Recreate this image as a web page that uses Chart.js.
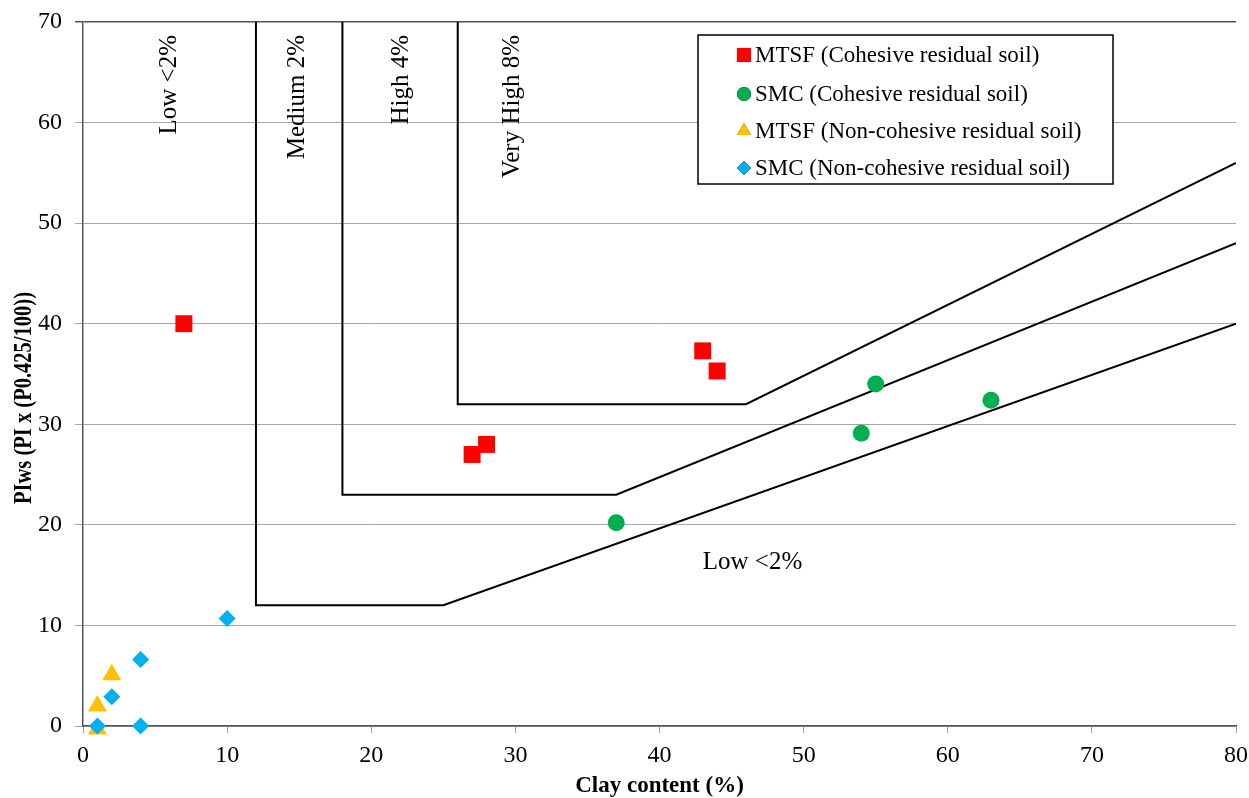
<!DOCTYPE html>
<html lang="en">

<head>
    <meta charset="UTF-8">
    <title>PIws vs clay content</title>
    <script src="https://cdn.jsdelivr.net/npm/chart.js"></script>
    <style>
        html, body { margin: 0; padding: 0; background: #fff; }
        .chart-box { width: 1249px; height: 798px; }
    </style>
</head>

<body>
    <div class="chart-box">
        <canvas id="scatterChart"></canvas>
    </div>

    <script>
        // series values (x = clay content %, y = PIws)
        const mtsfCohX = [7, 27, 28, 43, 44];
        const mtsfCohY = [40, 27, 28, 37.3, 35.3];
        const smcCohX = [37, 54, 55, 63];
        const smcCohY = [20.2, 29.1, 34, 32.4];
        const mtsfNonX = [1, 1, 2];
        const mtsfNonY = [-0.3, 2, 5.1];
        const smcNonX = [1, 2, 4, 4, 10];
        const smcNonY = [0, 2.9, 6.6, 0, 10.7];

        // zone boundaries
        const lowBoundX = [12, 12, 25, 80];
        const lowBoundY = [70, 12, 12, 40];
        const medBoundX = [18, 18, 37, 80];
        const medBoundY = [70, 23, 23, 48];
        const highBoundX = [26, 26, 46, 80];
        const highBoundY = [70, 32, 32, 56];

        const seriesLabels = [
            'MTSF (Cohesive residual soil)',
            'SMC (Cohesive residual soil)',
            'MTSF (Non-cohesive residual soil)',
            'SMC (Non-cohesive residual soil)'
        ];
        const zoneLabels = ['Low <2%', 'Medium 2%', 'High 4%', 'Very High 8%'];
        const zoneLabelX = [6, 14.9, 22.1, 29.8];

        const xTicks = [0, 10, 20, 30, 40, 50, 60, 70, 80];
        const yTicks = [0, 10, 20, 30, 40, 50, 60, 70];

        const serif = '"Liberation Serif", "Times New Roman", serif';

        function pts(xs, ys) {
            return xs.map((x, i) => ({ x: x, y: ys[i] }));
        }

        function boundary(xs, ys) {
            return {
                type: 'line',
                isBoundary: true,
                data: pts(xs, ys),
                borderColor: '#000',
                borderWidth: 2,
                pointRadius: 0,
                fill: false,
                tension: 0,
                order: 10
            };
        }

        // legend box + text labels drawn on the chart
        const overlay = {
            id: 'overlay',
            afterDraw(chart) {
                const ctx = chart.ctx;
                const xs = chart.scales.x;
                const ys = chart.scales.y;
                ctx.save();

                // rotated zone labels
                ctx.fillStyle = '#000';
                ctx.font = '25px ' + serif;
                ctx.textBaseline = 'middle';
                ctx.textAlign = 'right';
                zoneLabels.forEach((t, i) => {
                    ctx.save();
                    ctx.translate(xs.getPixelForValue(zoneLabelX[i]), 35);
                    ctx.rotate(-Math.PI / 2);
                    ctx.fillText(t, 0, 0);
                    ctx.restore();
                });

                // bottom zone label
                ctx.textAlign = 'left';
                ctx.fillText('Low <2%', xs.getPixelForValue(43), ys.getPixelForValue(16.3));

                // y axis title (narrow bold face, squeezed along its length)
                ctx.save();
                ctx.font = 'bold 25px ' + serif;
                ctx.textAlign = 'center';
                const yTitle = 'PIws (PI x (P0.425/100))';
                const squeeze = 212 / ctx.measureText(yTitle).width;
                ctx.translate(25, 398);
                ctx.rotate(-Math.PI / 2);
                ctx.scale(squeeze, 1);
                ctx.fillText(yTitle, 0, 0);
                ctx.restore();

                // legend
                ctx.fillStyle = '#fff';
                ctx.fillRect(698, 35, 415, 149);
                ctx.strokeStyle = '#000';
                ctx.lineWidth = 1.5;
                ctx.strokeRect(698, 35, 415, 149);
                const rowY = [55, 94, 131, 168];
                let row = 0;
                chart.data.datasets.forEach(ds => {
                    if (ds.isBoundary) return;
                    Chart.helpers.drawPoint(ctx, {
                        pointStyle: ds.pointStyle,
                        radius: ds.legendRadius,
                        borderWidth: 0,
                        rotation: 0
                    }, 744, rowY[row]);
                    ctx.fillStyle = ds.backgroundColor;
                    ctx.fill();
                    ctx.fillStyle = '#000';
                    ctx.font = '23px ' + serif;
                    ctx.textAlign = 'left';
                    ctx.fillText(ds.label, 755, rowY[row] + 1);
                    row++;
                });
                ctx.restore();
            }
        };

        new Chart(document.getElementById('scatterChart'), {
            type: 'scatter',
            data: {
                datasets: [
                    {
                        label: seriesLabels[0],
                        data: pts(mtsfCohX, mtsfCohY),
                        pointStyle: 'rect',
                        pointRadius: 12,
                        legendRadius: 10,
                        backgroundColor: '#ff0000',
                        borderWidth: 0,
                        clip: false,
                        order: 4
                    },
                    {
                        label: seriesLabels[1],
                        data: pts(smcCohX, smcCohY),
                        pointStyle: 'circle',
                        pointRadius: 8.5,
                        legendRadius: 7,
                        backgroundColor: '#00b050',
                        borderWidth: 0,
                        clip: false,
                        order: 3
                    },
                    {
                        label: seriesLabels[2],
                        data: pts(mtsfNonX, mtsfNonY),
                        pointStyle: 'triangle',
                        pointRadius: 11,
                        legendRadius: 8,
                        backgroundColor: '#ffc000',
                        borderWidth: 0,
                        clip: false,
                        order: 2
                    },
                    {
                        label: seriesLabels[3],
                        data: pts(smcNonX, smcNonY),
                        pointStyle: 'rectRot',
                        pointRadius: 8.5,
                        legendRadius: 7,
                        backgroundColor: '#00b0f0',
                        borderWidth: 0,
                        clip: false,
                        order: 1
                    },
                    boundary(lowBoundX, lowBoundY),
                    boundary(medBoundX, medBoundY),
                    boundary(highBoundX, highBoundY)
                ]
            },
            options: {
                responsive: true,
                maintainAspectRatio: false,
                animation: false,
                layout: { padding: { top: 22, right: 13, left: 0, bottom: 0 } },
                plugins: {
                    legend: { display: false },
                    tooltip: { enabled: false }
                },
                scales: {
                    x: {
                        type: 'linear',
                        min: 0,
                        max: 80,
                        afterBuildTicks: s => { s.ticks = xTicks.map(v => ({ value: v })); },
                        afterFit: s => { s.height = 72; s.paddingLeft = 0; s.paddingRight = 0; },
                        grid: { drawOnChartArea: false, drawTicks: true, tickLength: 7, color: '#999' },
                        border: { color: '#555', width: 1.5 },
                        ticks: { color: '#000', font: { family: serif, size: 24 }, padding: 8 },
                        title: {
                            display: true,
                            text: 'Clay content (%)',
                            color: '#000',
                            font: { family: serif, size: 23, weight: 'bold' },
                            padding: { top: 0, bottom: -2 }
                        }
                    },
                    y: {
                        type: 'linear',
                        min: 0,
                        max: 70,
                        afterBuildTicks: s => { s.ticks = yTicks.map(v => ({ value: v })); },
                        afterFit: s => { s.width = 83; s.paddingTop = 0; s.paddingBottom = 0; },
                        grid: {
                            color: c => (c.tick && c.tick.value === 70 ? '#555' : '#a6a6a6'),
                            lineWidth: c => (c.tick && c.tick.value === 70 ? 1.5 : 1),
                            drawTicks: true,
                            tickLength: 8
                        },
                        border: { color: '#555', width: 1.5 },
                        ticks: { color: '#000', font: { family: serif, size: 24 }, padding: 13 }
                    }
                }
            },
            plugins: [overlay]
        });
    </script>
</body>

</html>
